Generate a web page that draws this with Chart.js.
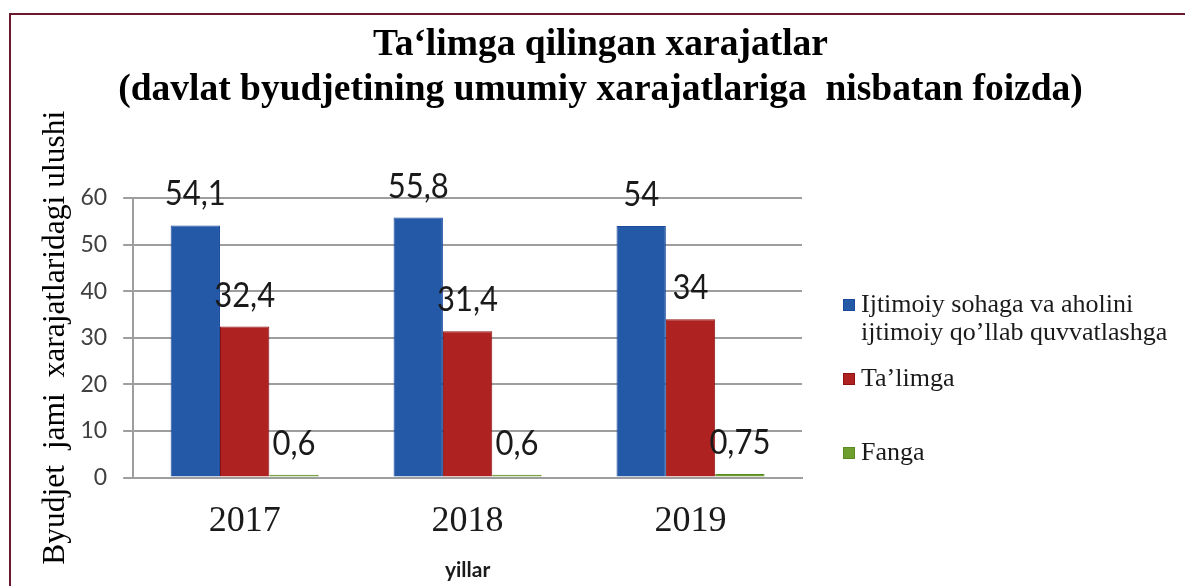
<!DOCTYPE html>
<html>
<head>
<meta charset="utf-8">
<script src="https://cdn.jsdelivr.net/npm/chart.js@4.4.0/dist/chart.umd.min.js"></script>
<style>
  html, body { margin: 0; padding: 0; background: #fff; }
  #wrap { position: relative; width: 1185px; height: 586px; overflow: hidden; }
  #frame { position: absolute; left: 9px; top: 13px; right: -10px; bottom: -10px;
           border-left: 2px solid #6b1830; border-top: 2px solid #6b1830; }
  canvas { position: absolute; left: 0; top: 0; }
</style>
</head>
<body>
<div id="wrap">
  <div id="frame"></div>
  <canvas id="chart" width="1185" height="586"></canvas>
</div>
<script>
const years = ["2017", "2018", "2019"];
const seriesNames = [
  ["Ijtimoiy sohaga va aholini", "ijtimoiy qo’llab quvvatlashga"],
  ["Ta’limga"],
  ["Fanga"]
];
const socialValues = [54.1, 55.8, 54];
const educationValues = [32.4, 31.4, 34];
const scienceValues = [0.6, 0.6, 0.75];
const yMin = 0, yMax = 60, yStep = 10;

const titleLines = ["Ta‘limga qilingan xarajatlar", "(davlat byudjetining umumiy xarajatlariga  nisbatan foizda)"];
const yTitle = "Byudjet  jami  xarajatlaridagi ulushi";
const xTitle = "yillar";

const fills = ["#2459a8", "#ae2222", "#6e9e2e"];
const edges = ["#1a4a9c", "#8e1212", "#5c8a22"];
const gridGray = "#9e9e9e";

// value labels above the bars (a bit taller, like Calibri in the original)
const valueLabels = {
  id: "valueLabels",
  afterDatasetsDraw(chart) {
    const ctx = chart.ctx;
    ctx.save();
    ctx.font = "31px Lato";
    ctx.fillStyle = "#1a1a1a";
    ctx.textAlign = "center";
    ctx.textBaseline = "alphabetic";
    chart.data.datasets.forEach((ds, i) => {
      chart.getDatasetMeta(i).data.forEach((bar, j) => {
        ctx.save();
        ctx.translate(bar.x, bar.y - 20);
        ctx.scale(1, 1.12);
        ctx.fillText(String(ds.data[j]).replace(".", ","), 0, 0);
        ctx.restore();
      });
    });
    ctx.restore();
  }
};

// legend on the right, drawn like the original
const sideLegend = {
  id: "sideLegend",
  afterDraw(chart) {
    const ctx = chart.ctx;
    const x0 = chart.chartArea.right + 41;
    let y = 305;
    ctx.save();
    ctx.font = "26px 'Liberation Serif'";
    ctx.textBaseline = "middle";
    ctx.textAlign = "left";
    chart.data.datasets.forEach((ds, i) => {
      ctx.fillStyle = fills[i];
      ctx.fillRect(x0, y - 6, 12, 12);
      ctx.strokeStyle = edges[i];
      ctx.lineWidth = 1;
      ctx.strokeRect(x0 + 0.5, y - 5.5, 11, 11);
      ctx.fillStyle = "#1a1a1a";
      seriesNames[i].forEach((line, k) => {
        ctx.fillText(line, x0 + 18, y + k * 28);
      });
      y += 74;
    });
    ctx.restore();
  }
};

const datasets = [socialValues, educationValues, scienceValues].map((vals, i) => ({
  label: seriesNames[i].join(" "),
  data: vals,
  backgroundColor: fills[i],
  borderColor: edges[i],
  borderWidth: 1,
  barPercentage: 1.0,
  categoryPercentage: 0.664
}));

new Chart(document.getElementById("chart"), {
  type: "bar",
  data: { labels: years, datasets: datasets },
  options: {
    responsive: false,
    animation: false,
    layout: { padding: { left: 16, right: 0, top: 8, bottom: 0 } },
    plugins: {
      legend: { display: false },
      tooltip: { enabled: false },
      title: {
        display: true,
        text: titleLines,
        color: "#000",
        font: { family: "'Liberation Serif'", size: 37.5, weight: "bold", lineHeight: 1.2 },
        padding: { top: 15, bottom: 85 }
      }
    },
    scales: {
      x: {
        grid: { display: false, drawTicks: false },
        border: { display: true, color: gridGray, width: 2 },
        ticks: {
          color: "#1a1a1a",
          padding: 22,
          font: { family: "'Liberation Serif'", size: 36 }
        },
        title: {
          display: true,
          text: xTitle,
          color: "#1a1a1a",
          font: { family: "Lato", size: 21, weight: "bold" },
          padding: { top: -7, bottom: 3 }
        }
      },
      y: {
        min: yMin,
        max: yMax,
        ticks: {
          stepSize: yStep,
          color: "#404040",
          padding: 16,
          font: { family: "Lato", size: 23 }
        },
        grid: { color: gridGray, lineWidth: 2, drawTicks: true, tickLength: 10 },
        border: { display: true, color: gridGray, width: 2 },
        title: {
          display: true,
          text: yTitle,
          color: "#000",
          font: { family: "'Liberation Serif'", size: 31.5, lineHeight: 1.0 },
          padding: { top: 24, bottom: -7 }
        }
      },
      // empty axis that only keeps room for the legend on the right
      side: {
        position: "right",
        display: true,
        min: yMin,
        max: yMax,
        grid: { display: false, drawTicks: false },
        border: { display: false },
        ticks: { display: false },
        afterFit(scale) { scale.width = 383; }
      }
    }
  },
  plugins: [valueLabels, sideLegend]
});
</script>
</body>
</html>
